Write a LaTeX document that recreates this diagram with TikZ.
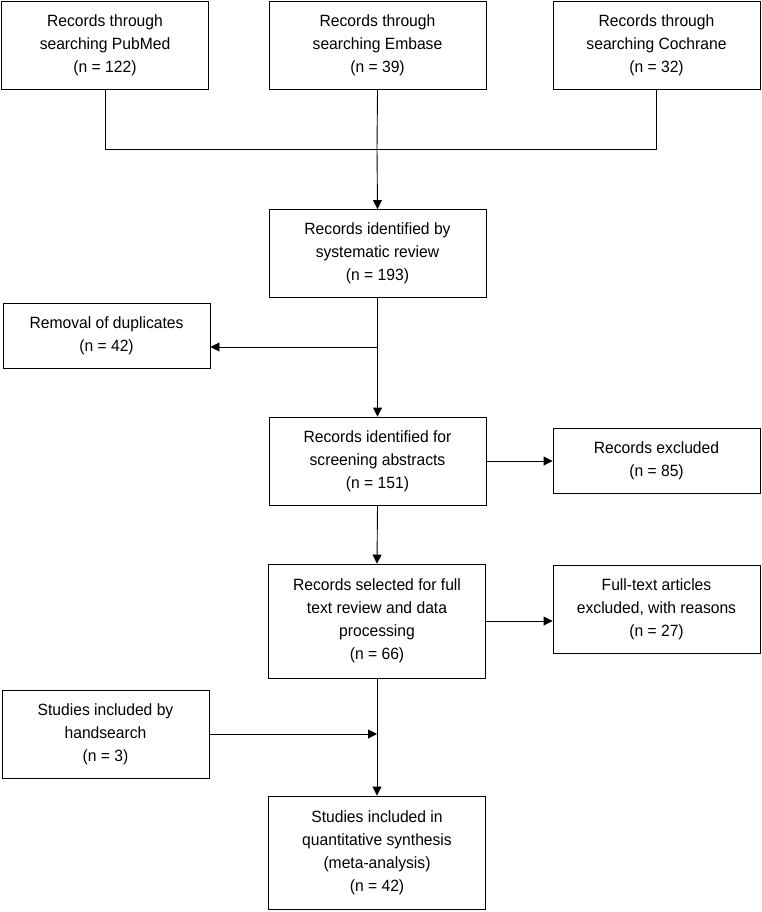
\documentclass[tikz,border=0pt]{standalone}
\usepackage{fontspec}
\setmainfont[FakeStretch=0.96]{Liberation Sans}
\usetikzlibrary{arrows.meta}

\begin{document}
\begin{tikzpicture}[x=1pt, y=-1pt, >={Triangle[length=9pt,width=9pt]}, line width=0.9pt, align=center,
  font=\fontsize{16.3}{23}\selectfont,
  box/.style={draw, rectangle, inner sep=0pt, minimum width=207pt, minimum height=88pt},
  mid/.style={box, minimum width=217pt}]
  \useasboundingbox (0,0) rectangle (762,912);

  \node[box]                       (pubmed)   at (105,45.5)   {Records through\\searching PubMed\\(n = 122)};
  \node[mid]                       (embase)   at (377.5,45.5) {Records through\\searching Embase\\(n = 39)};
  \node[box]                       (cochrane) at (656.5,45.5) {Records through\\searching Cochrane\\(n = 32)};
  \node[mid]                       (ident)    at (377.5,253.5){Records identified by\\systematic review\\(n = 193)};
  \node[box, minimum height=65pt]  (dup)      at (106.5,335.5){Removal of duplicates\\(n = 42)};
  \node[mid]                       (screen)   at (377.5,461)  {Records identified for\\screening abstracts\\(n = 151)};
  \node[box, minimum height=65pt]  (excl)     at (656.5,460.5){Records excluded\\(n = 85)};
  \node[mid, minimum height=114pt] (select)   at (377,621)    {Records selected for full\\text review and data\\processing\\(n = 66)};
  \node[box]                       (fulltext) at (656.5,609)  {Full-text articles\\excluded, with reasons\\(n = 27)};
  \node[box]                       (hand)     at (105.5,734)  {Studies included by\\handsearch\\(n = 3)};
  \node[mid, minimum height=113pt] (final)    at (377,852.5)  {Studies included in\\quantitative synthesis\\(meta-analysis)\\(n = 42)};

  \coordinate (merge)   at (377,149);
  \coordinate (dupjoin) at (377,347);

  % searches merged
  \draw (pubmed.south) |- (merge);
  \draw (cochrane.south) |- (merge);
  \draw (embase.south) -- (merge);
  \draw[->] (merge) -- (ident.north);

  % main column
  \draw[->] (ident.south) -- (screen.north);
  \draw[->] (dupjoin) -- (dupjoin -| dup.east);
  \draw[->] (screen.south) -- (select.north);
  \draw[->] (select.south) -- (final.north);

  % exclusions
  \draw[->] (screen.east) -- (screen.east -| excl.west);
  \draw[->] (select.east) -- (select.east -| fulltext.west);
  \draw[->] (hand.east) -- (hand.east -| select.south);
\end{tikzpicture}
\end{document}
